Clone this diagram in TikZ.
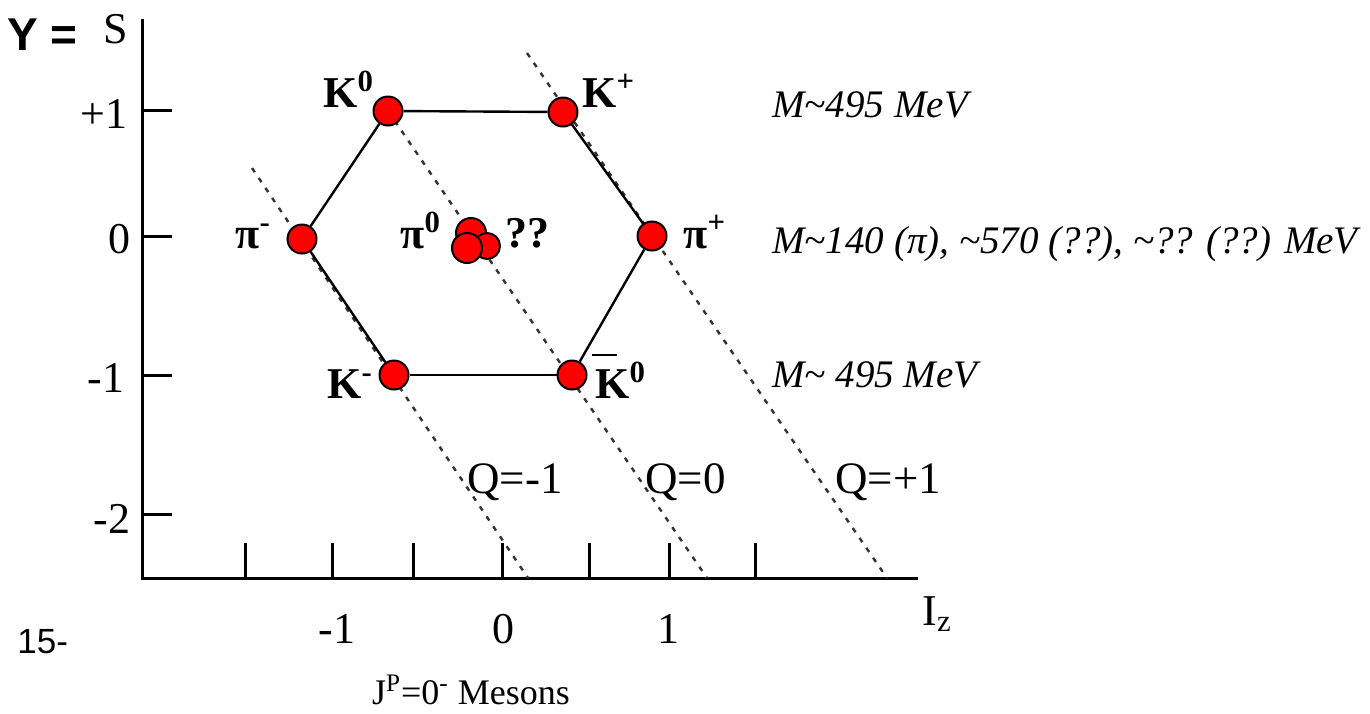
\documentclass[tikz,border=0pt]{standalone}
\usepackage{fontspec}
\setmainfont{Liberation Serif}
\newfontfamily\arialfont{Liberation Sans}
\newcommand\myfs[1]{\fontsize{#1}{#1}\selectfont}
\begin{document}
\begin{tikzpicture}[x=0.5pt,y=-0.5pt,
  part/.style={circle, draw=black, fill=red, line width=1pt, inner sep=0pt, minimum size=14.5pt},
  plab/.style={inner sep=0pt, anchor=base west, font={\myfs{22}\bfseries}},
  axlab/.style={inner sep=0pt, anchor=base east, font={\myfs{22}}},
  xlab/.style={inner sep=0pt, anchor=base, font={\myfs{22}}},
  masslab/.style={inner sep=0pt, anchor=base west, font={\myfs{19.5}\itshape}},
  qlab/.style={inner sep=0pt, anchor=base west, font={\myfs{22.5}}},
  hexedge/.style={line width=1.2pt},
  qline/.style={line width=1.2pt, black!80, dash pattern=on 2.5pt off 3.5pt},
  axisline/.style={line width=1.5pt},
  tick/.style={line width=1.5pt}]
\useasboundingbox (0,0) rectangle (1370,713);

% axes
\draw[axisline] (142,19) -- (142,578) -- (918,578);
\foreach \yy in {110,236,375,514} \draw[tick] (142,\yy) -- (172,\yy);
\foreach \xx in {245,332,413,502,589,669,755} \draw[tick] (\xx,543) -- (\xx,578);

% Q lines
\coordinate (qma) at (252,168);
\coordinate (qmb) at (528,578);
\coordinate (qza) at (388,111);
\coordinate (qzb) at (707,578);
\coordinate (qpa) at (527,53);
\coordinate (qpb) at (887,578);
\draw[qline] (qma) -- (qmb);
\draw[qline] (qza) -- (qzb);
\draw[qline] (qpa) -- (qpb);

% particles
\node[part] (k0) at (388,111) {};
\node[part] (kp) at (563,112) {};
\node[part] (pim) at (302,239) {};
\node[part] (pip) at (652,236) {};
\node[part] (km) at (394,375) {};
\node[part] (kb0) at (572,375) {};
\node[part, minimum size=15pt] (c1) at (471,233) {};
\node[part, minimum size=13pt] (c2) at (487,246) {};
\node[part, minimum size=15pt] (c3) at (467,248) {};

% hexagon
\draw[hexedge] (k0) -- (kp);
\draw[hexedge] (kp) -- (pip);
\draw[hexedge] (pip) -- (kb0);
\draw[hexedge] (kb0) -- (km);
\draw[hexedge] (km) -- (pim);
\draw[hexedge] (pim) -- (k0);

% particle labels
\node[plab] (lk0) at (323,107) {K\textsuperscript{0}};
\node[plab] (lkp) at (582,107) {K\textsuperscript{+}};
\node[plab] (lpim) at (235,248) {π\textsuperscript{-}};
\node[plab] (lpi0) at (400,248) {π\textsuperscript{0}};
\node[plab] (lqq) at (505,247) {??};
\node[plab] (lpip) at (683,248) {π\textsuperscript{+}};
\node[plab] (lkm) at (327,398) {K\textsuperscript{-}};
\node[plab] (lkb0) at (595,398) {\rlap{\hspace{-1.5pt}\rule[21pt]{12.5pt}{1pt}}K\textsuperscript{0}};

% mass labels
\node[masslab] (m1) at (772,117) {M\textasciitilde495 MeV};
\node[masslab] (m2) at (772,253) {M\textasciitilde140 (π), \textasciitilde570 (??), \textasciitilde?? (??) MeV};
\node[masslab] (m3) at (772,387) {M\textasciitilde\ 495 MeV};

% Q labels
\node[qlab] (q1) at (467,493) {Q=-1};
\node[qlab] (q2) at (645,493) {Q=0};
\node[qlab] (q3) at (835,493) {Q=+1};

% axis labels
\node[axlab] (yp1) at (128,128) {+1};
\node[axlab] (y0) at (131,253) {0};
\node[axlab] (ym1) at (125,392) {-1};
\node[axlab] (ym2) at (131,533) {-2};
\node[inner sep=0pt, anchor=base west, font={\myfs{22}}] (sl) at (103,43) {S};
\node[inner sep=0pt, anchor=base west, font={\arialfont\myfs{23}\bfseries}] (yeq) at (7,50) {Y =};
\node[xlab] (xm1) at (337,643) {-1};
\node[xlab] (x0) at (503,643) {0};
\node[xlab] (x1) at (668,643) {1};
\node[inner sep=0pt, anchor=base west, font={\myfs{22}}] (iz) at (922,625) {I\textsubscript{z}};
\node[inner sep=0pt, anchor=base west, font={\arialfont\myfs{17.5}}] (pg) at (17,653) {15-};
\node[inner sep=0pt, anchor=base, font={\myfs{18}}] (jp) at (471,704) {J\textsuperscript{P}=0\textsuperscript{-} Mesons};
\end{tikzpicture}
\end{document}
